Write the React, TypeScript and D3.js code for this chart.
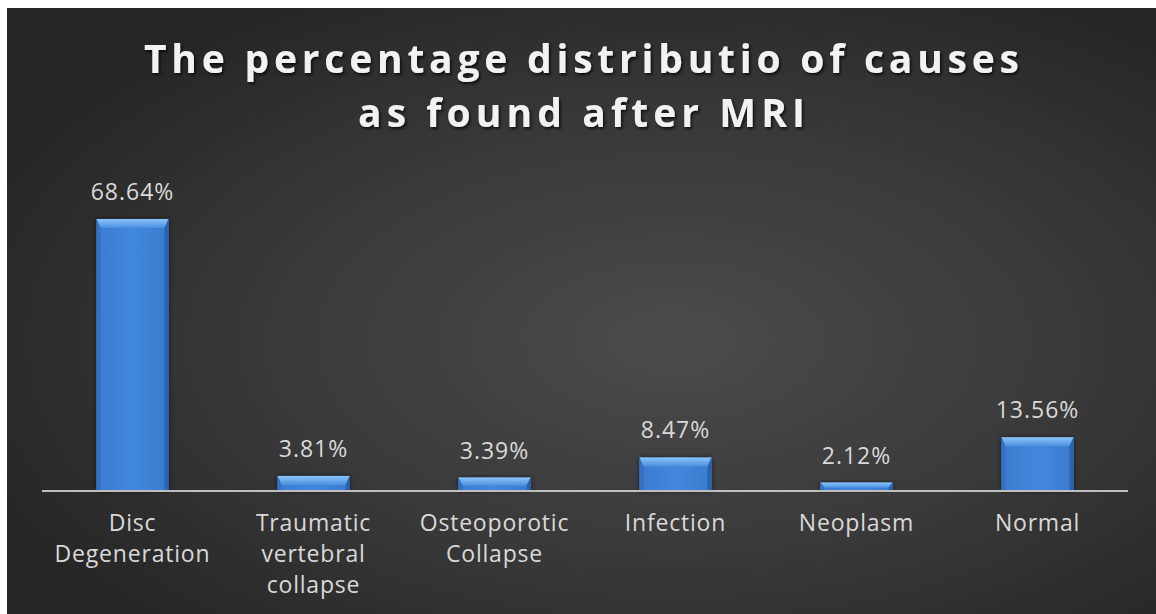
import React from "react";
import * as d3 from "d3";

const categories: string[][] = [
  ["Disc", "Degeneration"],
  ["Traumatic", "vertebral", "collapse"],
  ["Osteoporotic", "Collapse"],
  ["Infection"],
  ["Neoplasm"],
  ["Normal"],
];
const values: number[] = [68.64, 3.81, 3.39, 8.47, 2.12, 13.56];
const valueLabels: string[] = ["68.64%", "3.81%", "3.39%", "8.47%", "2.12%", "13.56%"];
const titleLines: string[] = ["The percentage distributio of causes", "as found after MRI"];

const W = 1156;
const H = 614;

export default function App() {
  const keys = categories.map((c) => c.join(" "));
  const x = d3.scaleBand<string>().domain(keys).range([42, 1128]).paddingInner(0.602).paddingOuter(0.301);
  const y = d3.scaleLinear().domain([0, 75]).range([491, 491 - 75 * 3.963]);
  const base = y(0);
  const font = "'Open Sans', 'DejaVu Sans', sans-serif";

  return (
    <div style={{ position: "absolute", left: 0, top: 0, width: W, height: H, overflow: "hidden" }}>
      <svg width={W} height={H} style={{ display: "block" }}>
        <defs>
          <radialGradient id="bg" cx="0.58" cy="0.55" r="0.65">
            <stop offset="0" stopColor="#4b4b4b" />
            <stop offset="0.55" stopColor="#393939" />
            <stop offset="1" stopColor="#262626" />
          </radialGradient>
          <linearGradient id="barMain" x1="0" x2="1" y1="0" y2="0">
            <stop offset="0" stopColor="#3a7bd0" />
            <stop offset="0.5" stopColor="#4288dc" />
            <stop offset="1" stopColor="#3a7bd0" />
          </linearGradient>
          <linearGradient id="bevelTop" x1="0" x2="0" y1="0" y2="1">
            <stop offset="0" stopColor="#8cc4f7" />
            <stop offset="1" stopColor="#4a90e0" />
          </linearGradient>
          <filter id="tshadow" x="-5%" y="-20%" width="110%" height="150%">
            <feDropShadow dx="1.5" dy="2" stdDeviation="1.5" floodColor="#000" floodOpacity="0.75" />
          </filter>
          <filter id="bshadow" x="-20%" y="-20%" width="140%" height="140%">
            <feDropShadow dx="0" dy="0" stdDeviation="2.5" floodColor="#000" floodOpacity="0.6" />
          </filter>
        </defs>
        <rect x={0} y={0} width={W} height={H} fill="#ffffff" />
        <rect x={7} y={8} width={W - 7} height={H - 8} fill="url(#bg)" />

        {titleLines.map((t, i) => (
          <text
            key={i}
            x={583}
            y={i === 0 ? 73 : 127}
            textAnchor="middle"
            fill="#f2f2f2"
            fontFamily={font}
            fontWeight={700}
            fontSize={39}
            letterSpacing={3}
            textLength={i === 0 ? 878 : 450}
            lengthAdjust="spacing"
            filter="url(#tshadow)"
          >
            {t}
          </text>
        ))}

        {values.map((v, i) => {
          const x0 = x(keys[i])!;
          const bw = x.bandwidth();
          const top = y(v);
          const h = base - top;
          const bev = Math.min(9, h * 0.6);
          const side = Math.min(4, bw / 10);
          return (
            <g key={i}>
              <rect x={x0} y={top} width={bw} height={h} fill="url(#barMain)" filter="url(#bshadow)" />
              <polygon
                points={`${x0},${top} ${x0 + bw},${top} ${x0 + bw - side},${top + bev} ${x0 + side},${top + bev}`}
                fill="url(#bevelTop)"
              />
              <polygon
                points={`${x0 + bw},${top} ${x0 + bw},${base} ${x0 + bw - side},${base} ${x0 + bw - side},${top + bev}`}
                fill="#2c62ad"
              />
              <polygon
                points={`${x0},${top} ${x0},${base} ${x0 + side},${base} ${x0 + side},${top + bev}`}
                fill="#3570c2"
              />
              <text
                x={x0 + bw / 2}
                y={top - 19}
                textAnchor="middle"
                fill="#d9d9d9"
                fontFamily={font}
                fontSize={23}
                letterSpacing={1}
              >
                {valueLabels[i]}
              </text>
            </g>
          );
        })}

        <line x1={42} x2={1128} y1={base} y2={base} stroke="#bfbfbf" strokeWidth={2} />

        {categories.map((lines, i) => {
          const cx = x(keys[i])! + x.bandwidth() / 2;
          return (
            <text key={i} textAnchor="middle" fill="#d9d9d9" fontFamily={font} fontSize={23} letterSpacing={0.8}>
              {lines.map((l, j) => (
                <tspan key={j} x={cx} y={base + 40 + j * 31}>
                  {l}
                </tspan>
              ))}
            </text>
          );
        })}
      </svg>
    </div>
  );
}
